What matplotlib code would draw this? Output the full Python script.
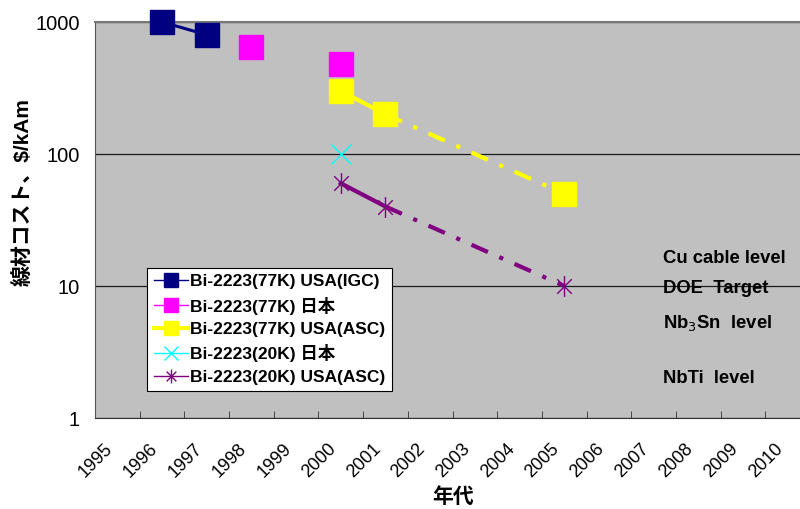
import numpy as np
import matplotlib
matplotlib.use('Agg')
import matplotlib.pyplot as plt
from matplotlib.lines import Line2D
from matplotlib.path import Path

plt.rcParams['font.family'] = ['Liberation Sans', 'Noto Sans CJK JP', 'DejaVu Sans']

# 年 (カテゴリ軸)
years = list(range(1995, 2011))

# 各シリーズのデータ
igc77_years = [1996, 1997]
igc77_cost = [1000, 800]

jp77_years = [1998, 2000]
jp77_cost = [650, 480]

asc77_years = [2000, 2001, 2005]
asc77_cost = [300, 200, 50]

jp20_years = [2000]
jp20_cost = [100]

asc20_years = [2000, 2001, 2005]
asc20_cost = [60, 40, 10]

legend_labels = ['Bi-2223(77K) USA(IGC)', 'Bi-2223(77K) 日本', 'Bi-2223(77K) USA(ASC)',
                 'Bi-2223(20K) 日本', 'Bi-2223(20K) USA(ASC)']
level_labels = ['Cu cable level', 'DOE  Target', 'Nb$_3$Sn  level', 'NbTi  level']

# Excel風アスタリスク (縦線 + X)
ast = Path([(0, -1), (0, 1), (-0.7, -0.7), (0.7, 0.7), (-0.7, 0.7), (0.7, -0.7)],
           [Path.MOVETO, Path.LINETO, Path.MOVETO, Path.LINETO, Path.MOVETO, Path.LINETO])


def idx(ys):
    return [years.index(y) for y in ys]


navy, mag, yel, cyan, purp = '#000080', '#FF00FF', '#FFFF00', '#00FFFF', '#800080'
dashdot = (0, (4.3, 3, 1, 3))

fig = plt.figure(figsize=(8, 5.09), dpi=100)
ax = fig.add_axes([95 / 800, 91 / 509, 715 / 800, 396 / 509])
ax.set_facecolor('#C0C0C0')

# USA(IGC) 77K
ax.plot(idx(igc77_years), igc77_cost, color=navy, lw=2.2, marker='s', ms=17,
        mec=navy, zorder=4, clip_on=False)

# 日本 77K (間が空いているので線なし)
x = np.arange(len(years))
jp77 = np.full(len(years), np.nan)
jp77[idx(jp77_years)] = jp77_cost
ax.plot(x, jp77, color=mag, lw=1, marker='s', ms=17, mec=mag, zorder=4)

# USA(ASC) 77K
xi = idx(asc77_years)
ax.plot(xi[:2], asc77_cost[:2], color=yel, lw=3, solid_capstyle='butt', zorder=3)
ax.plot(xi[1:], asc77_cost[1:], color=yel, lw=3, linestyle=dashdot, zorder=3)
ax.plot(xi, asc77_cost, ls='none', marker='s', ms=17, color=yel, mec=yel, zorder=4)

# 日本 20K
ax.plot(idx(jp20_years), jp20_cost, ls='none', marker='x', ms=15, mew=1,
        color=cyan, zorder=4)

# USA(ASC) 20K
xi = idx(asc20_years)
ax.plot(xi[:2], asc20_cost[:2], color=purp, lw=3, zorder=3)
ax.plot(xi[1:], asc20_cost[1:], color=purp, lw=3, linestyle=dashdot, zorder=3)
ax.plot(xi, asc20_cost, ls='none', marker=ast, ms=15, mew=1, color=purp, zorder=4)

# 軸
ax.set_yscale('log')
ax.set_ylim(1, 1000)
ax.set_xlim(-0.5, len(years) - 0.5)
ax.set_yticks([1, 10, 100, 1000])
ax.set_yticklabels(['1', '10', '100', '1000'], fontsize=14.5)
ax.yaxis.set_minor_locator(plt.NullLocator())
ax.tick_params(axis='y', length=0, pad=11)
# ラベルは区間中央より少し左に置く
ax.set_xticks(x - 0.3)
ax.set_xticklabels([str(y) for y in years], rotation=45, ha='right',
                   rotation_mode='anchor', fontsize=13)
ax.set_xticks(np.arange(len(years) + 1) - 0.5, minor=True)
ax.tick_params(axis='x', which='major', length=0, pad=16)
ax.tick_params(axis='x', which='minor', length=5, direction='in', color='#333333')

ax.grid(axis='y', which='major', color='#1a1a1a', lw=0.9)
ax.set_axisbelow(True)
ax.spines['top'].set_color('#777777')
ax.spines['top'].set_linewidth(1.5)
ax.spines['left'].set_color('#555555')
ax.spines['bottom'].set_color('#333333')
ax.spines['right'].set_visible(False)

fig.text(23 / 800, 1 - 192 / 509, '線材コスト、$/kAm', rotation=90, ha='center',
         va='center', fontsize=15, fontweight='bold')
fig.text(453 / 800, 1 - 497 / 509, '年代', ha='center', va='center',
         fontsize=15, fontweight='bold')

# レベル表示
for lab, yf in zip(level_labels, [0.402, 0.326, 0.240, 0.101]):
    ax.text(0.794, yf, lab, transform=ax.transAxes, ha='left', va='center',
            fontsize=13.3, fontweight='bold')

# 凡例
handles = [
    Line2D([], [], color=navy, lw=1, marker='s', ms=10, mec=navy),
    Line2D([], [], color=mag, lw=1, marker='s', ms=10, mec=mag),
    Line2D([], [], color=yel, lw=3, marker='s', ms=10, mec=yel),
    Line2D([], [], color=cyan, lw=1, marker='x', ms=10, mew=1),
    Line2D([], [], color=purp, lw=1, marker=ast, ms=10, mew=1),
]
leg = ax.legend(handles, legend_labels, loc='upper left',
                bbox_to_anchor=(0.0727, 0.38), borderaxespad=0, fancybox=False,
                framealpha=1, edgecolor='black', handlelength=2.0,
                handletextpad=0.1, labelspacing=0.42, borderpad=0.38,
                prop={'size': 12.5, 'weight': 'bold'})
leg.get_frame().set_linewidth(0.8)

fig.savefig('out.png', dpi=100)
